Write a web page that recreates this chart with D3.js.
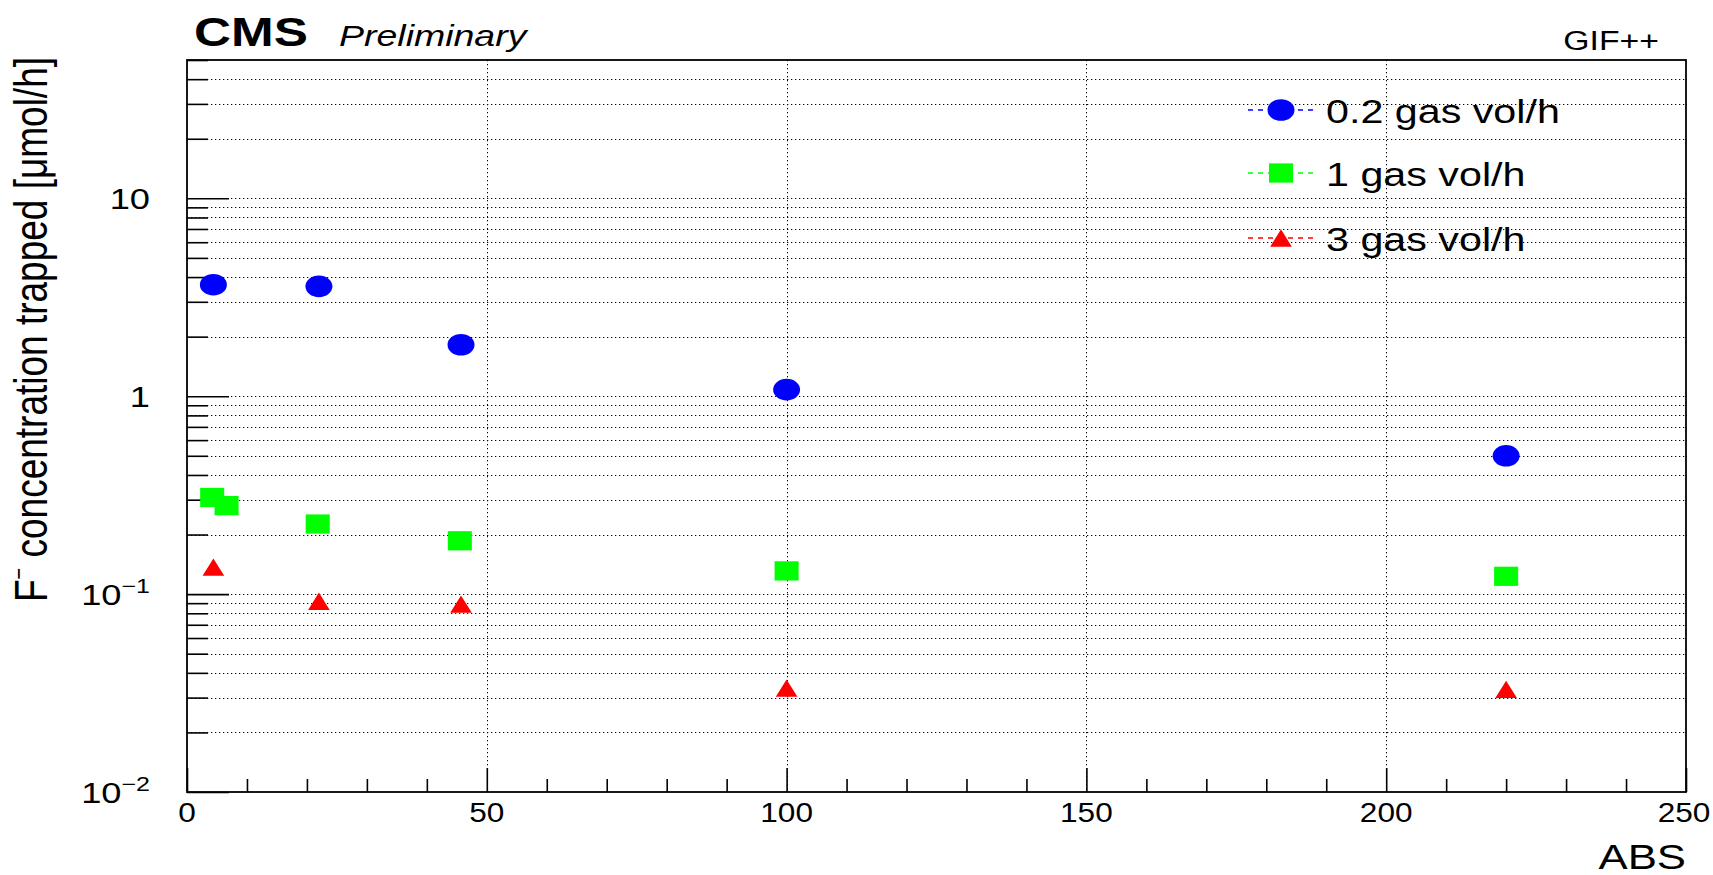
<!DOCTYPE html>
<html>
<head>
<meta charset="utf-8">
<script src="https://cdn.jsdelivr.net/npm/d3@7/dist/d3.min.js"></script>
<style>
html,body{margin:0;padding:0;background:#fff;}
svg{display:block;}
text{font-family:"Liberation Sans","Arial",sans-serif;fill:#000;}
</style>
</head>
<body>
<script>
// ---- data ----
const seriesNames = ["0.2 gas vol/h", "1 gas vol/h", "3 gas vol/h"];
const seriesColors = ["#0000ff", "#00ff00", "#ff0000"];
const blueX = [4.4, 22, 45.7, 100, 220];
const blueY = [3.66, 3.59, 1.82, 1.08, 0.50];
const greenX = [4.2, 6.6, 21.8, 45.5, 100, 220];
const greenY = [0.308, 0.28, 0.226, 0.186, 0.131, 0.123];
const redX = [4.4, 22, 45.7, 100, 220];
const redY = [0.137, 0.092, 0.089, 0.0335, 0.033];
const xMajorTicks = [0, 50, 100, 150, 200, 250];
const yMajorTicks = [0.01, 0.1, 1, 10];
const yTickLabels = [["10", "\u22122"], ["10", "\u22121"], ["1", ""], ["10", ""]];
const xTitle = "ABS";
const yTitleMain = "F";
const yTitleSup = "\u2212";
const yTitleRest = " concentration trapped [\u03bcmol/h]";

const W = 1713, H = 875;
const SX = 1.25; // horizontal stretch of the original rendering

const svg = d3.select("body").append("svg").attr("width", W).attr("height", H);

const x = d3.scaleLinear().domain([0, 250]).range([187, 1686]);
const y = d3.scaleLog().domain([0.01, 50]).range([792, 60]);

const xMinor = d3.range(0, 251, 10).filter(v => v % 50 !== 0);
const yAll = [];
[0.01, 0.1, 1, 10].forEach(d => { for (let k = 1; k <= 9; k++) { const v = +(d * k).toPrecision(3); if (v <= 50) yAll.push(v); } });
const yMinor = yAll.filter(v => !yMajorTicks.includes(v));

// ---- grid ----
const grid = svg.append("g").attr("stroke", "#000").attr("stroke-width", 1).attr("stroke-dasharray", "1.3,2.7");
grid.selectAll(".gy").data(yAll.filter(v => v > 0.01 && v < 50)).join("line")
  .attr("x1", x(0)).attr("x2", x(250)).attr("y1", d => Math.round(y(d)) + 0.5).attr("y2", d => Math.round(y(d)) + 0.5);
grid.selectAll(".gx").data([50, 100, 150, 200]).join("line")
  .attr("y1", y(50)).attr("y2", y(0.01)).attr("x1", d => Math.round(x(d)) + 0.5).attr("x2", d => Math.round(x(d)) + 0.5);

// ---- axes ticks ----
const gX = svg.append("g").attr("transform", `translate(0,${y(0.01)})`);
gX.call(d3.axisBottom(x).tickValues(xMinor).tickSize(-13).tickFormat(""));
gX.call(g => g.select(".domain").remove());
const gX2 = svg.append("g").attr("transform", `translate(0,${y(0.01)})`);
gX2.call(d3.axisBottom(x).tickValues(xMajorTicks).tickSize(-24).tickFormat(""));
gX2.call(g => g.select(".domain").remove());

const gY = svg.append("g").attr("transform", `translate(${x(0)},0)`);
gY.call(d3.axisLeft(y).tickValues(yMinor).tickSize(-21).tickFormat(""));
gY.call(g => g.select(".domain").remove());
const gY2 = svg.append("g").attr("transform", `translate(${x(0)},0)`);
gY2.call(d3.axisLeft(y).tickValues(yMajorTicks).tickSize(-42).tickFormat(""));
gY2.call(g => g.select(".domain").remove());
svg.selectAll(".tick line").attr("stroke", "#000").attr("stroke-width", 1.6);

// ---- frame ----
svg.append("rect").attr("x", x(0)).attr("y", y(50)).attr("width", x(250) - x(0)).attr("height", y(0.01) - y(50))
  .attr("fill", "none").attr("stroke", "#000").attr("stroke-width", 1.8);

// ---- stretched text helper ----
function stext(px, py, str, size, anchor, opts) {
  const sx = (opts && opts.sx) || SX;
  const t = svg.append("text").attr("transform", `translate(${px},${py}) scale(${sx},1)`)
    .attr("font-size", size).attr("text-anchor", anchor || "start").text(str);
  if (opts && opts.weight) t.attr("font-weight", opts.weight);
  if (opts && opts.style) t.attr("font-style", opts.style);
  return t;
}

// x tick labels
xMajorTicks.forEach(v => stext(Math.min(x(v), 1684), 822, String(v), 27, "middle", {sx: 1.17}));
// y tick labels
yMajorTicks.forEach((v, i) => {
  const [base, sup] = yTickLabels[i];
  const t = svg.append("text").attr("transform", `translate(150,${y(v) + 11}) scale(${SX},1)`)
    .attr("font-size", 29).attr("text-anchor", "end");
  t.append("tspan").text(base);
  if (sup) t.append("tspan").attr("font-size", 20).attr("dy", -12).text(sup);
});

// axis titles
stext(1686, 869, xTitle, 35, "end");
const yt = svg.append("text").attr("transform", `translate(47,57) scale(${SX},1) rotate(-90)`)
  .attr("font-size", 37).attr("text-anchor", "end");
yt.append("tspan").text(yTitleMain);
yt.append("tspan").attr("font-size", 20).attr("dy", -16).text(yTitleSup);
yt.append("tspan").attr("dy", 16).text(yTitleRest);

// header
stext(194, 46, "CMS", 41, "start", {weight: "bold"});
stext(339, 46, "Preliminary", 30, "start", {style: "italic"});
stext(1659, 50, "GIF++", 27, "end");

// ---- markers ----
const triType = { draw(ctx, size) { const h = Math.sqrt(size) * 0.5; const w = h * 1.0; ctx.moveTo(0, -h); ctx.lineTo(w, h); ctx.lineTo(-w, h); ctx.closePath(); } };
const shapes = [d3.symbol(d3.symbolCircle, 366), d3.symbol(d3.symbolSquare, 370), d3.symbol(triType, 300)];
const series = [
  { xs: blueX, ys: blueY },
  { xs: greenX, ys: greenY },
  { xs: redX, ys: redY }
];
series.forEach((s, i) => {
  const pts = s.xs.map((v, j) => [v, s.ys[j]]);
  svg.append("g").selectAll("path").data(pts).join("path")
    .attr("d", shapes[i]())
    .attr("fill", seriesColors[i])
    .attr("transform", d => `translate(${x(d[0])},${y(d[1])}) scale(${SX},1)`);
});

// ---- legend ----
const legY = [110, 173, 238];
seriesNames.forEach((name, i) => {
  const g = svg.append("g");
  g.append("line").attr("x1", 1248).attr("x2", 1313).attr("y1", legY[i]).attr("y2", legY[i])
    .attr("stroke", seriesColors[i]).attr("stroke-width", 1.5).attr("stroke-dasharray", "5,5");
  g.append("path").attr("d", shapes[i]()).attr("fill", seriesColors[i])
    .attr("transform", `translate(1281,${legY[i]}) scale(${SX},1)`);
  stext(1326, legY[i] + 13, name, 33, "start");
});
</script>
</body>
</html>
